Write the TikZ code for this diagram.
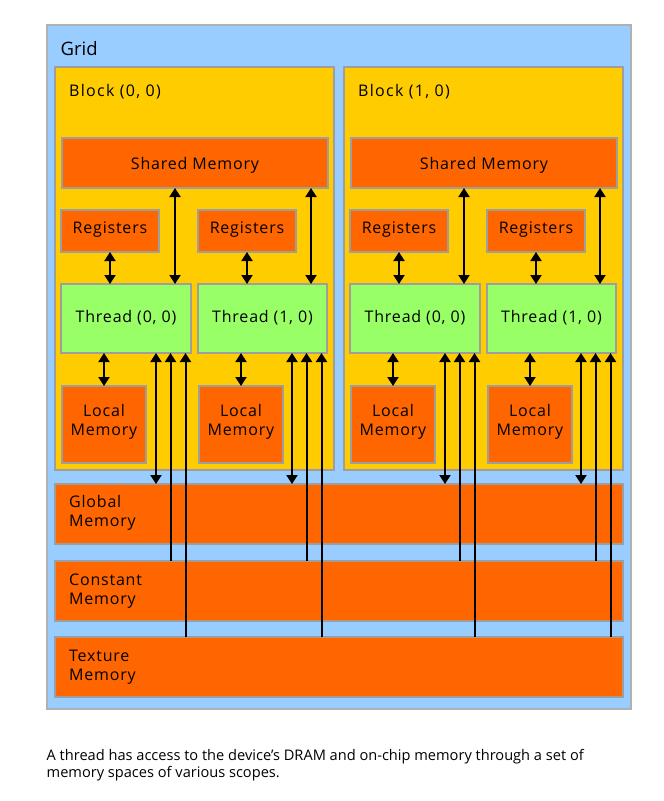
\documentclass[tikz,border=0pt]{standalone}
\usepackage{fontspec}
\setmainfont{Open Sans}
\newfontfamily\labfont[LetterSpace=5]{Open Sans}
\newfontfamily\blkfont[LetterSpace=8]{Open Sans}
\usetikzlibrary{arrows.meta}
\definecolor{gridblue}{HTML}{99CCFF}
\definecolor{blockyel}{HTML}{FFCC00}
\definecolor{memorange}{HTML}{FF6600}
\definecolor{thgreen}{HTML}{99FF66}
\definecolor{bordergrey}{HTML}{9E9E9E}
\tikzset{
  rect/.style={anchor=north west, inner sep=0pt, outer sep=0pt, draw=bordergrey, line width=1.5pt},
  gridbox/.style={rect, fill=gridblue, draw=bordergrey!80},
  blockbox/.style={rect, fill=blockyel},
  membox/.style={rect, fill=memorange},
  threadbox/.style={rect, fill=thgreen},
  lab/.style={anchor=base, inner sep=0pt, font=\labfont\fontsize{16}{19.3}\selectfont, align=center},
  lefttext/.style={anchor=base west, inner sep=0pt, font=\labfont\fontsize{16}{19.3}\selectfont, align=left},
  dbl/.style={{Triangle[length=9pt,width=11pt]}-{Triangle[length=9pt,width=11pt]}, line width=2pt},
  upone/.style={-{Triangle[length=9pt,width=11pt]}, line width=2pt},
}
\begin{document}
\begin{tikzpicture}[x=1pt,y=-1pt]
\useasboundingbox[fill=white] (0,0) rectangle (664,801);
% grid
\node[gridbox, minimum width=584pt, minimum height=684pt] (grid) at (47,25) {};
\node[anchor=base west, inner sep=0pt, font=\fontsize{18.5}{20}\selectfont] (gridlabel) at (60.5,55.7) {Grid};
% blocks
\foreach \b/\o in {0/0,1/289}{
  \node[blockbox, minimum width=279pt, minimum height=403pt] (block\b) at (55+\o,67) {};
  \node[membox, minimum width=266pt, minimum height=50pt] (shared\b) at (62+\o,138) {};
  \node[membox, minimum width=98pt, minimum height=42pt] (reg\b0) at (61+\o,210) {};
  \node[membox, minimum width=98pt, minimum height=42pt] (reg\b1) at (198+\o,210) {};
  \node[threadbox, minimum width=130pt, minimum height=69pt] (th\b0) at (61+\o,284) {};
  \node[threadbox, minimum width=129pt, minimum height=69pt] (th\b1) at (198+\o,284) {};
  \node[membox, minimum width=84pt, minimum height=77pt] (loc\b0) at (62+\o,386) {};
  \node[membox, minimum width=84pt, minimum height=77pt] (loc\b1) at (199+\o,386) {};
  \node[lab] (sharedlabel\b) at (shared\b.center |- 0,169) {Shared Memory};
  \node[lab] (reglabel\b0) at (reg\b0.center |- 0,233.3) {Registers};
  \node[lab] (reglabel\b1) at (reg\b1.center |- 0,233.3) {Registers};
  \node[lab] (thlabel\b0) at (th\b0.center |- 0,322.7) {Thread (0, 0)};
  \node[lab] (thlabel\b1) at (th\b1.center |- 0,322.7) {Thread (1, 0)};
  \node[lab] (loclabel\b0) at (loc\b0.center |- 0,435.3) {Local\\Memory};
  \node[lab] (loclabel\b1) at (loc\b1.center |- 0,435.3) {Local\\Memory};
}
\node[lefttext, font=\blkfont\fontsize{16}{19}\selectfont] (blocklabel0) at (69,96) {Block (0, 0)};
\node[lefttext, font=\blkfont\fontsize{16}{19}\selectfont] (blocklabel1) at (358,96) {Block (1, 0)};
% device memories
\node[membox, minimum width=568pt, minimum height=60pt] (global) at (55,484) {};
\node[membox, minimum width=568pt, minimum height=60pt] (constant) at (55,561) {};
\node[membox, minimum width=568pt, minimum height=60pt] (texture) at (55,637) {};
\node[lefttext] (globallabel) at (69,526.6) {Global\\Memory};
\node[lefttext] (constantlabel) at (69,604.3) {Constant\\Memory};
\node[lefttext] (texturelabel) at (69,680.3) {Texture\\Memory};
% connectors
\foreach \b in {0,1}{
  \foreach \t in {0,1}{
    \draw[dbl] (reg\b\t.south) -- (reg\b\t.south |- th\b\t.north);
    \draw[dbl] (th\b\t.south -| loc\b\t.north) -- (loc\b\t.north);
    \draw[dbl] ([xshift=-16pt]th\b\t.north east) -- ([xshift=-16pt]th\b\t.north east |- shared\b.south);
    \draw[dbl] ([xshift=-35pt]th\b\t.south east) -- ([xshift=-35pt]th\b\t.south east |- global.north);
    \draw[upone] ([xshift=-20.5pt]th\b\t.south east |- constant.north) -- ([xshift=-20.5pt]th\b\t.south east);
    \draw[upone] ([xshift=-5.5pt]th\b\t.south east |- texture.north) -- ([xshift=-5.5pt]th\b\t.south east);
  }
}
% caption
\node[anchor=base west, inner sep=0pt, align=left, font=\fontsize{14.6}{17}\selectfont] (caption) at (46.5,777.7) {A thread has access to the device’s DRAM and on-chip memory through a set of\\memory spaces of various scopes.};
\end{tikzpicture}
\end{document}
